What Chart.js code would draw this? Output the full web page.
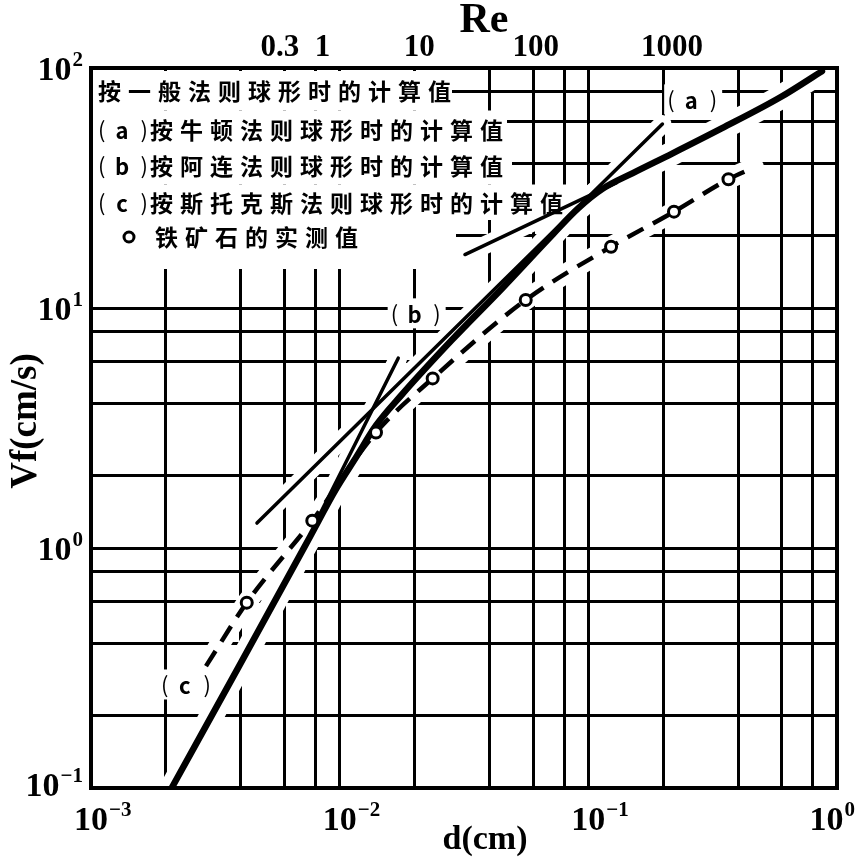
<!DOCTYPE html>
<html>
<head>
<meta charset="utf-8">
<title>Vf - d</title>
<script src="https://cdn.jsdelivr.net/npm/chart.js@4.4.1/dist/chart.umd.min.js"></script>
<style>
  html, body { margin: 0; padding: 0; background: #fff; }
  #wrap { width: 858px; height: 860px; }
</style>
</head>
<body>
<div id="wrap"><canvas id="vfChart"></canvas></div>
<script>
// Settling velocity Vf (cm/s) against particle size d (cm), log-log.
// Values.

// thick curve: general law, sphere
const generalD  = [0.00211, 0.00396, 0.00762, 0.00964, 0.01162, 0.0140, 0.0177, 0.02825, 0.0451, 0.0721, 0.0910, 0.1148, 0.151, 0.2173, 0.3435, 0.594, 0.87];
const generalVf = [0.1, 0.325, 1.12, 1.75, 2.38, 3.24, 4.33, 7.35, 12.1, 20.3, 26.0, 31.5, 36.5, 44.0, 56.0, 75.7, 97];

// (a) Newton, (b) Allen, (c) Stokes
const newtonD  = [0.0319, 0.13];
const newtonVf = [16.7, 33.3];
const allenD   = [0.00465, 0.1986];
const allenVf  = [1.27, 58.4];
const stokesD  = [0.00837, 0.0172];
const stokesVf = [1.40, 6.18];

// iron ore, measured
const oreD  = [0.00423, 0.00776, 0.0140, 0.02366, 0.056, 0.1234, 0.221, 0.366];
const oreVf = [0.592, 1.30, 3.03, 5.09, 10.8, 18.0, 25.2, 34.4];
// the dashed curve through them runs a little past both ends
const oreCurveD  = [0.0029].concat(oreD, [0.464]);
const oreCurveVf = [0.322].concat(oreVf, [38.5]);

// grid at 1, 2, 4, 6, 8 of every decade
const gridMantissas = [1, 2, 4, 6, 8];
const xDecades = [-3, -2, -1, 0];
const yDecades = [-1, 0, 1, 2];

// tick labels
const xTickValues = [1e-3, 1e-2, 1e-1, 1];
const xTickExps   = ['\u22123', '\u22122', '\u22121', '0'];
const yTickValues = [0.1, 1, 10, 100];
const yTickExps   = ['\u22121', '0', '1', '2'];
// Reynolds number marks along the top edge, and the d where each sits
const reLabels = ['0.3', '1', '10', '100', '1000'];
const reAtD    = [0.00575, 0.00853, 0.0209, 0.0615, 0.217];

// legend block
const legendTags  = ['', 'a', 'b', 'c', ''];
const legendTexts = [
    '按一般法则球形时的计算值',
    '按牛顿法则球形时的计算值',
    '按阿连法则球形时的计算值',
    '按斯托克斯法则球形时的计算值',
    '铁矿石的实测值'
];
// curve tags inside the plot
const curveTags = ['a', 'b', 'c'];
const curveTagD  = [0.264, 0.0204, 0.00243];
const curveTagVf = [74, 9.5, 0.27];


function gridValues(decades) {
    const vals = [];
    decades.forEach((e, i) => {
        if (i === decades.length - 1) {
            vals.push(Math.pow(10, e));
            return;
        }
        gridMantissas.forEach(m => vals.push(m * Math.pow(10, e)));
    });
    return vals;
}
const xGrid = gridValues(xDecades);
const yGrid = gridValues(yDecades);

const toPts = (xs, ys) => xs.map((x, i) => ({x: x, y: ys[i]}));

function line(data, width, extra) {
    return Object.assign({
        data: data,
        showLine: true,
        borderColor: '#000',
        borderWidth: width,
        borderCapStyle: 'round',
        borderJoinStyle: 'round',
        pointRadius: 0,
        pointHoverRadius: 0,
        fill: false,
        order: 1
    }, extra || {});
}
// white band under a curve, so the grid breaks around it as in the print
function halo(data, width, extra) {
    return line(data, width, Object.assign({borderColor: '#fff', order: 5}, extra || {}));
}

const general = toPts(generalD, generalVf);
const newton = toPts(newtonD, newtonVf);
const allen = toPts(allenD, allenVf);
const stokes = toPts(stokesD, stokesVf);
const oreCurve = toPts(oreCurveD, oreCurveVf);
const ore = toPts(oreD, oreVf);
const smooth = {cubicInterpolationMode: 'monotone'};

const SERIF = '"Liberation Serif", "DejaVu Serif", serif';
const CJK = '"Noto Sans CJK SC", "Noto Sans", sans-serif';

function drawPower(ctx, exp, x, baseY, anchor, size) {
    const expSize = Math.round(size * 0.62);
    ctx.font = 'bold ' + size + 'px ' + SERIF;
    const wBase = ctx.measureText('10').width;
    ctx.font = 'bold ' + expSize + 'px ' + SERIF;
    const wExp = ctx.measureText(exp).width;
    let left = anchor === 'right' ? x - wBase - wExp - 1 : x - wBase / 2;
    if (left + wBase + wExp + 1 > chartWidth - 3) {
        left = chartWidth - 3 - wBase - wExp - 1;
    }
    ctx.textAlign = 'left';
    ctx.textBaseline = 'alphabetic';
    ctx.font = 'bold ' + size + 'px ' + SERIF;
    ctx.fillText('10', left, baseY);
    ctx.font = 'bold ' + expSize + 'px ' + SERIF;
    ctx.fillText(exp, left + wBase + 1, baseY - size * 0.42);
}

// "( a )" style tag, left edge at x
function drawTag(ctx, letter, x, y) {
    ctx.textBaseline = 'middle';
    ctx.font = '22px ' + CJK;
    ctx.textAlign = 'left';
    ctx.fillText('(', x, y);
    ctx.textAlign = 'right';
    ctx.fillText(')', x + 50, y);
    ctx.font = 'bold 22px ' + CJK;
    ctx.textAlign = 'center';
    ctx.fillText(letter, x + 24, y + 1);
}

// CJK line with the wide letter pitch of the print
function drawSpaced(ctx, text, x, y, pitch) {
    ctx.font = 'bold 23px ' + CJK;
    ctx.textAlign = 'left';
    ctx.textBaseline = 'middle';
    Array.from(text).forEach((ch, i) => ctx.fillText(ch, x + i * pitch, y));
}

const chartWidth = 858;
const legendRowY = [91, 130, 166, 203, 237];
// right end of the white ground behind each legend row
const legendRowRight = [452, 507, 512, 569, 456];

const paperPlugin = {
    id: 'paper',
    beforeDatasetsDraw(chart) {
        const ctx = chart.ctx;
        const area = chart.chartArea;
        const xs = chart.scales.x, ys = chart.scales.y;
        ctx.save();
        ctx.fillStyle = '#fff';
        legendRowY.forEach((y, i) => {
            const top = i === 0 ? area.top + 3 : (legendRowY[i - 1] + y) / 2;
            const bottom = i === legendRowY.length - 1 ? y + 32 : (legendRowY[i + 1] + y) / 2;
            ctx.fillRect(area.left + 2, top, legendRowRight[i] - area.left - 2, bottom - top);
        });
        curveTags.forEach((t, i) => {
            const cx = xs.getPixelForValue(curveTagD[i]);
            const cy = ys.getPixelForValue(curveTagVf[i]);
            ctx.fillRect(cx - 29, cy - 15, 58, 30);
        });
        ctx.restore();
    },
    afterDatasetsDraw(chart) {
        const ctx = chart.ctx;
        const a = chart.chartArea;
        ctx.save();
        ctx.strokeStyle = '#000';
        ctx.lineWidth = 4;
        ctx.strokeRect(a.left, a.top, a.right - a.left, a.bottom - a.top);
        ctx.restore();
    },
    afterDraw(chart) {
        const ctx = chart.ctx;
        const a = chart.chartArea;
        const xs = chart.scales.x, ys = chart.scales.y;
        ctx.save();
        ctx.fillStyle = '#000';

        // decade labels
        xTickValues.forEach((v, i) => {
            drawPower(ctx, xTickExps[i], xs.getPixelForValue(v), a.bottom + 42, 'center', 34);
        });
        yTickValues.forEach((v, i) => {
            const base = Math.min(ys.getPixelForValue(v) + 12, a.bottom + 8);
            drawPower(ctx, yTickExps[i], a.left - 8, base, 'right', 34);
        });

        // Re along the top
        ctx.textAlign = 'center';
        ctx.textBaseline = 'alphabetic';
        ctx.font = 'bold 31px ' + SERIF;
        reLabels.forEach((t, i) => {
            ctx.fillText(t, xs.getPixelForValue(reAtD[i]), a.top - 12);
        });
        ctx.font = 'bold 42px ' + SERIF;
        ctx.fillText('Re', 484, 32);

        // axis titles
        ctx.font = 'bold 34px ' + SERIF;
        ctx.textBaseline = 'middle';
        ctx.fillText('d(cm)', 485, 840);
        ctx.save();
        ctx.translate(26, 421);
        ctx.rotate(-Math.PI / 2);
        ctx.font = 'bold 37px ' + SERIF;
        ctx.fillText('Vf(cm/s)', 0, 0);
        ctx.restore();

        // legend
        legendTexts.forEach((t, i) => {
            const y = legendRowY[i];
            let x = a.left + 7;
            if (legendTags[i]) {
                drawTag(ctx, legendTags[i], x, y);
                x += 52;
            } else if (i === legendTexts.length - 1) {
                ctx.lineWidth = 3;
                ctx.strokeStyle = '#000';
                ctx.beginPath();
                ctx.arc(a.left + 38, y, 5, 0, Math.PI * 2);
                ctx.stroke();
                x = a.left + 64;
            }
            drawSpaced(ctx, t, x, y, 30);
        });

        // tags on the curves
        curveTags.forEach((t, i) => {
            const cx = xs.getPixelForValue(curveTagD[i]);
            const cy = ys.getPixelForValue(curveTagVf[i]);
            drawTag(ctx, t, cx - 26, cy);
        });
        ctx.restore();
    }
};

const gridOpts = {color: '#000', lineWidth: 3, drawTicks: false};

new Chart(document.getElementById('vfChart'), {
    type: 'scatter',
    data: {
        datasets: [
            halo(general, 24, smooth),
            halo(newton, 18),
            halo(allen, 18),
            halo(stokes, 18),
            halo(oreCurve, 20, smooth),
            line(general, 6.5, smooth),
            line(newton, 3.5),
            line(allen, 3.5),
            line(stokes, 3.5),
            line(oreCurve, 4.5, Object.assign({borderDash: [18, 11], borderCapStyle: 'butt'}, smooth)),
            {
                data: ore,
                showLine: false,
                pointRadius: 5.5,
                pointHoverRadius: 5.5,
                pointBorderWidth: 3,
                pointBackgroundColor: '#fff',
                pointBorderColor: '#000',
                order: 0
            }
        ]
    },
    options: {
        responsive: true,
        maintainAspectRatio: false,
        animation: false,
        events: [],
        layout: {padding: {left: 91, right: 21, top: 68, bottom: 72}},
        plugins: {
            legend: {display: false},
            tooltip: {enabled: false}
        },
        scales: {
            x: {
                type: 'logarithmic',
                min: 1e-3,
                max: 1,
                afterBuildTicks: s => { s.ticks = xGrid.map(v => ({value: v})); },
                ticks: {display: false},
                border: {display: false},
                grid: gridOpts
            },
            y: {
                type: 'logarithmic',
                min: 0.1,
                max: 100,
                afterBuildTicks: s => { s.ticks = yGrid.map(v => ({value: v})); },
                ticks: {display: false},
                border: {display: false},
                grid: gridOpts
            }
        }
    },
    plugins: [paperPlugin]
});
</script>
</body>
</html>
